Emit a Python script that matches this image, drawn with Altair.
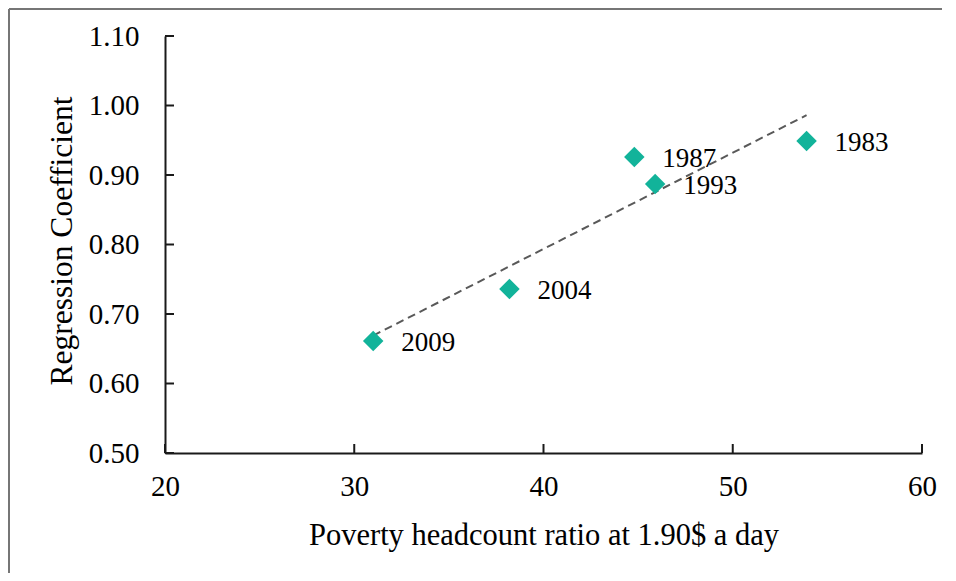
import altair as alt
import pandas as pd

# Data
years = ["1983", "1987", "1993", "2004", "2009"]
poverty = [53.9, 44.8, 45.9, 38.2, 31.0]
coef = [0.949, 0.926, 0.887, 0.736, 0.661]

x_ticks = [20, 30, 40, 50, 60]
y_ticks = [0.50, 0.60, 0.70, 0.80, 0.90, 1.00, 1.10]

df = pd.DataFrame({"year": years, "x": poverty, "y": coef})
xt = pd.DataFrame({"t": x_ticks})
yt = pd.DataFrame({"t": y_ticks})

W, H = 757, 417
FONT = "Liberation Serif"
TEAL = "#12B39A"

xscale = alt.Scale(domain=[20, 60], nice=False, zero=False)
yscale = alt.Scale(domain=[0.5, 1.1], nice=False, zero=False)

common = dict(labelFont=FONT, labelFontSize=29, labelColor="black", labelFlush=False,
              titleFont=FONT, titleColor="black", titleFontWeight="normal",
              grid=False, ticks=False, tickSize=0, domainColor="#1a1a1a", domainWidth=2,
              labelOverlap=False)

xaxis = alt.Axis(values=x_ticks, format="d", title="Poverty headcount ratio at 1.90$ a day",
                 titleX=W / 2, titleY=82, titleBaseline="middle", titleAlign="center",
                 titleFontSize=30.5,
                 labelPadding=19, labelBaseline="top", labelAlign="center", **common)
yaxis = alt.Axis(values=y_ticks, format=".2f", title="Regression Coefficient",
                 titleX=-103, titleY=H / 2 - 4, titleBaseline="middle", titleAlign="center",
                 titleAngle=-90, titleFontSize=31.5,
                 labelPadding=26, labelBaseline="middle", labelAlign="right",
                 **common)

base = alt.Chart(df)

points = base.mark_point(shape="diamond", filled=True, size=420, color=TEAL, opacity=1).encode(
    x=alt.X("x:Q", scale=xscale, axis=xaxis),
    y=alt.Y("y:Q", scale=yscale, axis=yaxis),
)

trend = base.transform_regression("x", "y").mark_line(
    color="#595959", strokeDash=[8, 5], strokeWidth=2
).encode(x=alt.X("x:Q", scale=xscale), y=alt.Y("y:Q", scale=yscale))

labels = base.mark_text(align="left", baseline="middle", dx=28, dy=2,
                        font=FONT, fontSize=27, color="black").encode(
    x=alt.X("x:Q", scale=xscale), y=alt.Y("y:Q", scale=yscale), text="year:N"
)

xticks = alt.Chart(xt).mark_rule(color="#1a1a1a", strokeWidth=2).encode(
    x=alt.X("t:Q", scale=xscale), y=alt.value(H), y2=alt.value(H - 9)
)
yticks = alt.Chart(yt).mark_rule(color="#1a1a1a", strokeWidth=2).encode(
    y=alt.Y("t:Q", scale=yscale), x=alt.value(0), x2=alt.value(9)
)

border_left = alt.Chart(xt).mark_rule(color="#767676", strokeWidth=2).encode(
    x=alt.value(-156), y=alt.value(-27), y2=alt.value(H + 130)
)
border_top = alt.Chart(xt).mark_rule(color="#767676", strokeWidth=2).encode(
    x=alt.value(-156), x2=alt.value(W + 40), y=alt.value(-27)
)

chart = alt.layer(border_left, border_top, trend, points, labels, xticks, yticks).properties(
    width=W, height=H,
    padding={"left": 157, "top": 28, "right": 20, "bottom": 120},
    autosize=alt.AutoSizeParams(type="none"),
).configure_view(stroke=None)

chart.save("out.html", embed_options={"renderer": "svg", "actions": False})
